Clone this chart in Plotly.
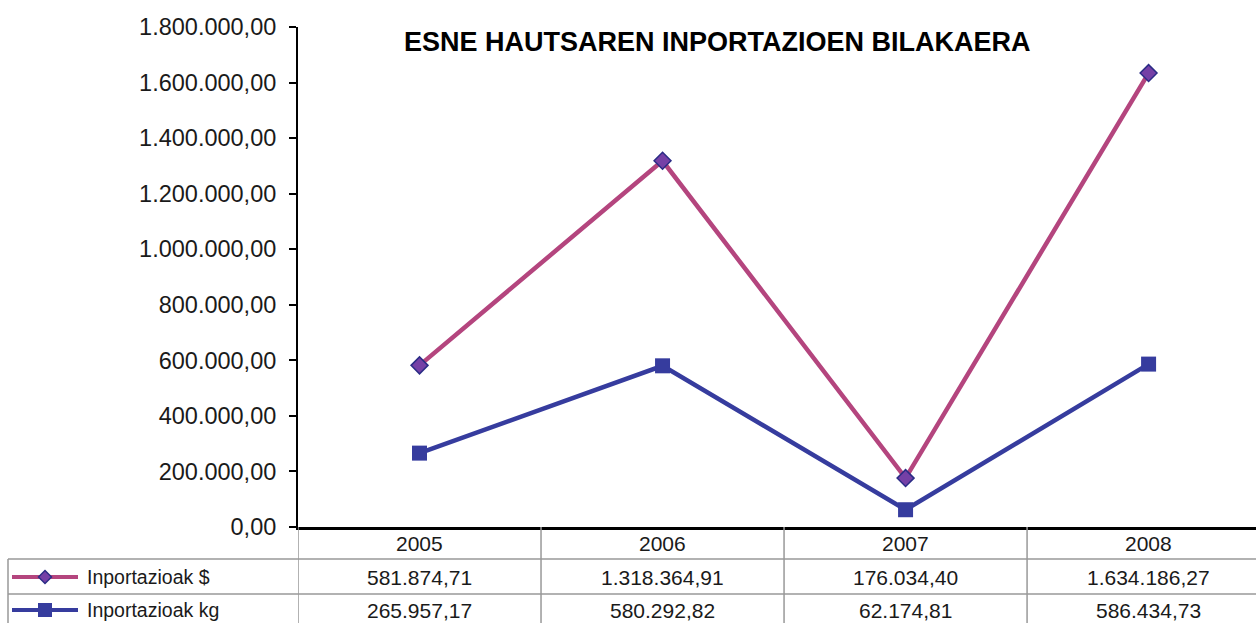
import plotly.graph_objects as go

# ---- data ----
years = ["2005", "2006", "2007", "2008"]
series_names = ["Inportazioak $", "Inportazioak kg"]
imports_usd = [581874.71, 1318364.91, 176034.40, 1634186.27]
imports_kg = [265957.17, 580292.82, 62174.81, 586434.73]
y_ticks = [0, 200000, 400000, 600000, 800000, 1000000, 1200000, 1400000, 1600000, 1800000]
title_text = "ESNE HAUTSAREN INPORTAZIOEN BILAKAERA"


def fmt(v):
    s = f"{v:,.2f}"
    return s.replace(",", "X").replace(".", ",").replace("X", ".")


W, H = 1256, 623
FONT = "Liberation Sans, Arial, sans-serif"
PINK = "#B4457E"
BLUE = "#363C9E"
DIAMOND_FILL = "#7540A6"
DIAMOND_EDGE = "#2B2C86"
TXT = "#1a1a1a"


def px(x):
    return x / W


def py(y):
    return 1 - y / H


fig = go.Figure()
fig.add_trace(go.Scatter(
    x=years, y=imports_usd, mode="lines+markers", name=series_names[0],
    line=dict(color=PINK, width=4.5),
    marker=dict(symbol="diamond", size=13, color=DIAMOND_FILL,
                line=dict(color=DIAMOND_EDGE, width=1.5)),
    cliponaxis=False,
))
fig.add_trace(go.Scatter(
    x=years, y=imports_kg, mode="lines+markers", name=series_names[1],
    line=dict(color=BLUE, width=4.5),
    marker=dict(symbol="square", size=15, color=BLUE,
                line=dict(color=BLUE, width=0)),
    cliponaxis=False,
))

shapes = []
annotations = []
GRID = "#999999"

# table vertical lines at category boundaries
for b in [-0.5, 0.5, 1.5, 2.5]:
    shapes.append(dict(type="line", xref="x", yref="paper", x0=b, x1=b,
                       y0=py(527), y1=py(H + 2), line=dict(color=GRID, width=1.5)))
# table horizontal lines
for yy in [559, 594]:
    shapes.append(dict(type="line", xref="paper", yref="paper", x0=px(8), x1=1,
                       y0=py(yy), y1=py(yy), line=dict(color=GRID, width=1.5)))
# left border of legend column
shapes.append(dict(type="line", xref="paper", yref="paper", x0=px(8), x1=px(8),
                   y0=py(559), y1=py(H + 2), line=dict(color=GRID, width=1.5)))

# header years
for i, yr in enumerate(years):
    annotations.append(dict(x=i, y=py(543), xref="x", yref="paper", text=yr,
                            xanchor="center", yanchor="middle", showarrow=False,
                            font=dict(size=21, color=TXT, family=FONT)))
# value rows
row_y = [577, 610]
for vals, ry in zip([imports_usd, imports_kg], row_y):
    for i, v in enumerate(vals):
        annotations.append(dict(x=i, y=py(ry), xref="x", yref="paper", text=fmt(v),
                                xanchor="center", yanchor="middle", showarrow=False,
                                font=dict(size=21, color=TXT, family=FONT)))

# legend keys
for name, ry, col in zip(series_names, row_y, [PINK, BLUE]):
    shapes.append(dict(type="line", xref="paper", yref="paper", x0=px(12), x1=px(78),
                       y0=py(ry), y1=py(ry), line=dict(color=col, width=4)))
    annotations.append(dict(x=px(85), y=py(ry), xref="paper", yref="paper", text=name,
                            xanchor="left", yanchor="middle", showarrow=False,
                            font=dict(size=19.5, color=TXT, family=FONT)))
# diamond key
cx, cy, r = 45, row_y[0], 6.5
shapes.append(dict(type="path", xref="paper", yref="paper",
                   path=f"M {px(cx - r)} {py(cy)} L {px(cx)} {py(cy - r)} L {px(cx + r)} {py(cy)} L {px(cx)} {py(cy + r)} Z",
                   fillcolor=DIAMOND_FILL, line=dict(color=DIAMOND_EDGE, width=1.5)))
# square key
cx, cy, r = 45, row_y[1], 7
shapes.append(dict(type="rect", xref="paper", yref="paper",
                   x0=px(cx - r), x1=px(cx + r), y0=py(cy + r), y1=py(cy - r),
                   fillcolor=BLUE, line=dict(width=0)))

# title
annotations.append(dict(x=px(717), y=py(42), xref="paper", yref="paper", text=f"<b>{title_text}</b>",
                        xanchor="center", yanchor="middle", showarrow=False,
                        font=dict(size=27, color="#000000", family=FONT)))

fig.update_layout(
    width=W, height=H, autosize=False,
    margin=dict(l=0, r=0, t=0, b=0, pad=0, autoexpand=False),
    paper_bgcolor="white", plot_bgcolor="white",
    showlegend=False,
    font=dict(family=FONT, color=TXT),
    xaxis=dict(domain=[px(298), 1], range=[-0.5, 3.442], type="category",
               showticklabels=False, ticks="", showgrid=False, zeroline=False,
               showline=True, linecolor="black", linewidth=3, automargin=False),
    yaxis=dict(domain=[1 - 527 / H, 1 - 27 / H], range=[0, 1800000],
               tickvals=y_ticks, ticktext=[fmt(v) for v in y_ticks],
               ticks="outside", ticklen=7, tickwidth=2, tickcolor="black",
               showgrid=False, zeroline=False, showline=True, linecolor="black", linewidth=2,
               tickfont=dict(size=23.5, color=TXT, family=FONT), ticklabelstandoff=8,
               automargin=False),
    shapes=shapes, annotations=annotations,
)

fig.write_html("out.html", config={"displayModeBar": False},
               post_script="document.body.style.margin='0px';")
